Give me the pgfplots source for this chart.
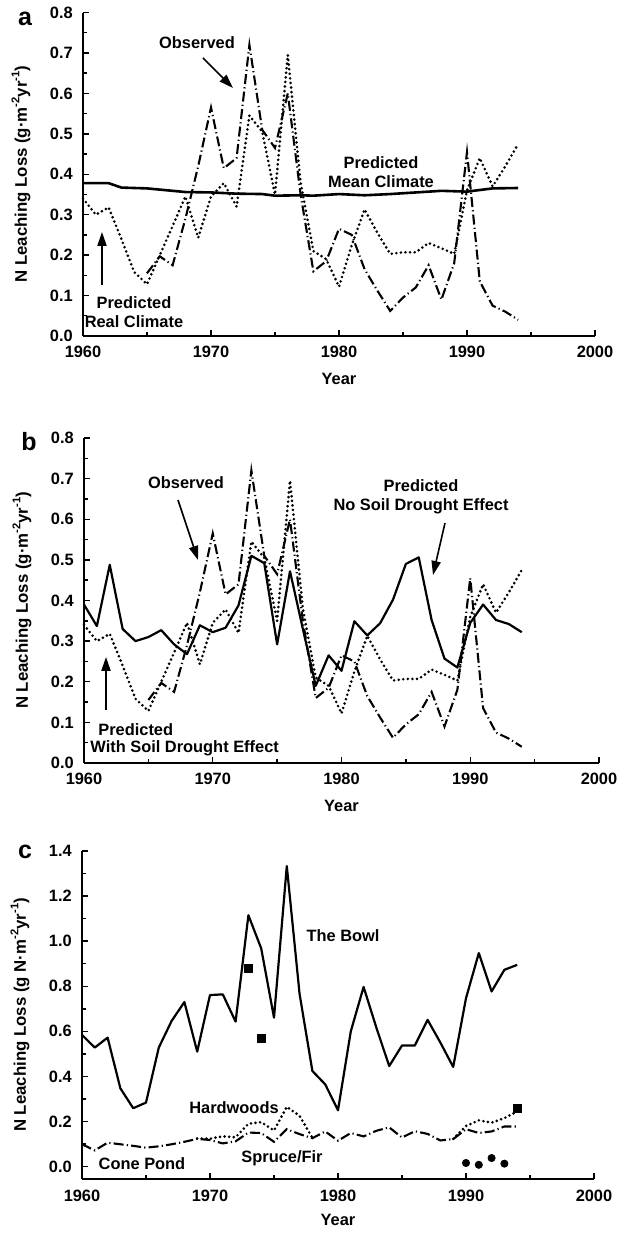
\documentclass[border=0pt]{standalone}
\usepackage{fontspec}
\setmainfont{Liberation Sans}
\usepackage{pgfplots}
\pgfplotsset{compat=1.18}
\usetikzlibrary{arrows.meta}

\newcommand\fnt{\fontsize{8.2}{9.6}\selectfont\bfseries}
\newcommand\supx[1]{\raisebox{0.85ex}{\fontsize{5.6}{6}\selectfont #1}}

\pgfplotsset{
  panel/.style={
    scale only axis, width=256pt,
    xmin=1960, xmax=2000,
    axis lines=left, axis line style={-, line width=1pt},
    xtick={1960,1970,1980,1990,2000},
    xticklabels={1960,1970,1980,1990,2000},
    minor x tick num=1, minor y tick num=1,
    tick align=inside,
    major tick length=3pt, minor tick length=1.8pt,
    every tick/.style={line width=0.7pt, black},
    tick label style={font=\fnt},
    yticklabel style={/pgf/number format/fixed, /pgf/number format/fixed zerofill,
      /pgf/number format/precision=1, /pgf/number format/assume math mode=true, xshift=-1.6pt},
    xticklabel style={yshift=-1.5pt},
    xlabel={Year},
    xlabel style={font=\fnt, at={(axis description cs:0.5,0)}, anchor=center, yshift=-21.5pt},
    ylabel style={font=\fontsize{8.4}{10}\selectfont\bfseries, at={(axis description cs:0,0.5)}, anchor=center, rotate=0, yshift=31pt},
    clip=false,
  },
  solidl/.style={black, line width=1.1pt, line join=round},
  dotl/.style={black, line width=1.45pt, dash pattern=on 0pt off 2.3pt, line cap=round},
  dashdotl/.style={black, line width=1.05pt, dash pattern=on 5pt off 1.6pt on 0.6pt off 1.6pt},
}

\newcommand\observed{%
\addplot[dashdotl] coordinates {
(1965,0.155)(1966,0.197)(1967,0.175)(1968,0.29)(1969,0.42)(1970,0.565)(1971,0.415)(1972,0.44)
(1973,0.72)(1974,0.51)(1975,0.465)(1976,0.60)(1977,0.35)(1978,0.16)(1979,0.185)(1980,0.265)
(1981,0.25)(1982,0.165)(1983,0.112)(1984,0.062)(1985,0.095)(1986,0.12)(1987,0.175)(1988,0.09)
(1989,0.18)(1990,0.455)(1991,0.135)(1992,0.075)(1993,0.06)(1994,0.04)};
}
\newcommand\realclim{%
\addplot[dotl] coordinates {
(1960,0.34)(1961,0.30)(1962,0.318)(1963,0.24)(1964,0.158)(1965,0.128)(1966,0.2)(1967,0.272)
(1968,0.345)(1969,0.243)(1970,0.345)(1971,0.378)(1972,0.32)(1973,0.545)(1974,0.505)(1975,0.35)
(1976,0.695)(1977,0.38)(1978,0.21)(1979,0.19)(1980,0.122)(1981,0.225)(1982,0.313)(1983,0.255)
(1984,0.203)(1985,0.207)(1986,0.207)(1987,0.23)(1988,0.217)(1989,0.203)(1990,0.36)(1991,0.44)
(1992,0.37)(1993,0.42)(1994,0.475)};
}

\begin{document}
\begin{tikzpicture}
\useasboundingbox (0,0) rectangle (313.5pt,616.5pt);

% ---------------- panel a
\begin{axis}[panel, at={(41.5pt,448.5pt)}, anchor=south west, height=161.75pt,
  ymin=0, ymax=0.8, ytick={0,0.1,...,0.8},
  ylabel={N Leaching Loss (g·m\supx{-2}yr\supx{-1})}]
\observed
\realclim
\addplot[solidl, line width=1.3pt] coordinates {
(1960,0.378)(1962,0.378)(1963,0.367)(1965,0.365)(1967,0.359)(1968,0.356)(1970,0.355)(1972,0.352)
(1974,0.351)(1975,0.347)(1977,0.348)(1978,0.347)(1980,0.351)(1982,0.348)(1984,0.351)(1986,0.355)
(1988,0.359)(1990,0.357)(1992,0.365)(1994,0.366)};
\end{axis}

% ---------------- panel b
\begin{axis}[panel, at={(42pt,235pt)}, anchor=south west, width=257.5pt, height=162.5pt,
  ymin=0, ymax=0.8, ytick={0,0.1,...,0.8},
  ylabel={N Leaching Loss (g·m\supx{-2}yr\supx{-1})}]
\observed
\realclim
\addplot[solidl] coordinates {
(1960,0.39)(1961,0.337)(1962,0.488)(1963,0.33)(1964,0.30)(1965,0.31)(1966,0.327)(1967,0.292)
(1968,0.268)(1969,0.339)(1970,0.322)(1971,0.333)(1972,0.388)(1973,0.51)(1974,0.492)(1975,0.292)
(1976,0.472)(1977,0.33)(1978,0.19)(1979,0.265)(1980,0.227)(1981,0.349)(1982,0.314)(1983,0.344)
(1984,0.402)(1985,0.49)(1986,0.506)(1987,0.352)(1988,0.257)(1989,0.235)(1990,0.345)(1991,0.39)
(1992,0.352)(1993,0.342)(1994,0.322)};
\end{axis}

% ---------------- panel c
\begin{axis}[panel, at={(41pt,27pt)}, anchor=south west, height=164pt,
  ymin=-0.055, ymax=1.4, ytick={0,0.2,...,1.4},
  unbounded coords=jump,
  xticklabel style={yshift=-0.5pt}, xlabel style={yshift=1pt},
  ylabel={N Leaching Loss (g N·m\supx{-2}yr\supx{-1})}]
\addplot[solidl] coordinates {
(1960,0.584)(1961,0.528)(1962,0.572)(1963,0.347)(1964,0.259)(1965,0.284)(1966,0.528)(1967,0.646)
(1968,0.73)(1969,0.51)(1970,0.761)(1971,0.764)(1972,0.643)(1973,1.115)(1974,0.968)(1975,0.661)
(1976,1.333)(1977,0.765)(1978,0.424)(1979,0.365)(1980,0.25)(1981,0.60)(1982,0.797)(1983,0.616)
(1984,0.446)(1985,0.537)(1986,0.537)(1987,0.651)(1988,0.55)(1989,0.442)(1990,0.747)(1991,0.947)
(1992,0.777)(1993,0.873)(1994,0.895)};
\addplot[dashdotl] coordinates {
(1960,0.099)(1961,0.072)(1962,0.106)(1963,0.099)(1964,0.092)(1965,0.084)(1966,0.09)(1967,0.099)
(1968,0.11)(1969,0.123)(1970,0.118)(1971,0.103)(1972,0.112)(1973,0.151)(1974,0.149)(1975,0.11)
(1976,0.166)(1977,0.144)(1978,0.126)(1979,0.156)(1980,0.115)(1981,0.149)(1982,0.134)(1983,0.159)
(1984,0.174)(1985,0.129)(1986,0.157)(1987,0.145)(1988,0.116)(1989,0.122)(1990,0.166)(1991,0.149)
(1992,0.156)(1993,0.178)(1994,0.178)};
\addplot[dotl] coordinates {
(1969,0.125)(1970,0.124)(1971,0.134)(1972,0.13)(1973,0.19)(1974,0.197)(1975,0.16)(1976,0.265)
(1977,0.225)(1978,0.127)(1979,nan)(1989,0.123)(1990,0.18)(1991,0.205)(1992,0.195)(1993,0.215)(1994,0.245)};
\addplot[only marks, mark=square*, mark size=2pt, black] coordinates {(1973,0.878)(1974,0.568)(1994,0.26)};
\addplot[only marks, mark=*, mark size=1.8pt, black] coordinates {(1990,0.016)(1991,0.008)(1992,0.038)(1993,0.013)};
\end{axis}

% ---------------- annotations (image pixel coordinates)
\begin{scope}[x=0.5pt, y=-0.5pt, yshift=616.5pt, font=\fnt]
\tikzset{arr/.style={line width=0.8pt, -{Triangle[length=7pt,width=4.6pt]}}}
\node[font=\fontsize{12.5}{14}\selectfont\bfseries] at (25,19) {a};
\node[font=\fontsize{12.5}{14}\selectfont\bfseries] at (29,442) {b};
\node[font=\fontsize{12.5}{14}\selectfont\bfseries] at (25,852) {c};
% a
\node at (197,43) {Observed};
\draw[arr] (203,58) -- (233,88);
\node[align=center] at (381,172) {Predicted\\Mean Climate};
\draw[arr] (102,285) -- (102,232);
\node[align=center] at (134,312) {Predicted\\Real Climate};
% b
\node at (186,483) {Observed};
\draw[arr] (178,500) -- (198,560);
\node[align=center] at (421,497) {Predicted\\No Soil Drought Effect};
\draw[arr] (445,523) -- (433,575);
\draw[arr] (106,710) -- (106,657);
\node[anchor=west, inner sep=0pt] at (98,730) {Predicted};
\node[anchor=west, inner sep=0pt] at (90,748) {With Soil Drought Effect};
% c
\node at (343,936) {The Bowl};
\node at (234,1108) {Hardwoods};
\node at (142,1164) {Cone Pond};
\node at (282,1158) {Spruce/Fir};
\end{scope}
\end{tikzpicture}
\end{document}
